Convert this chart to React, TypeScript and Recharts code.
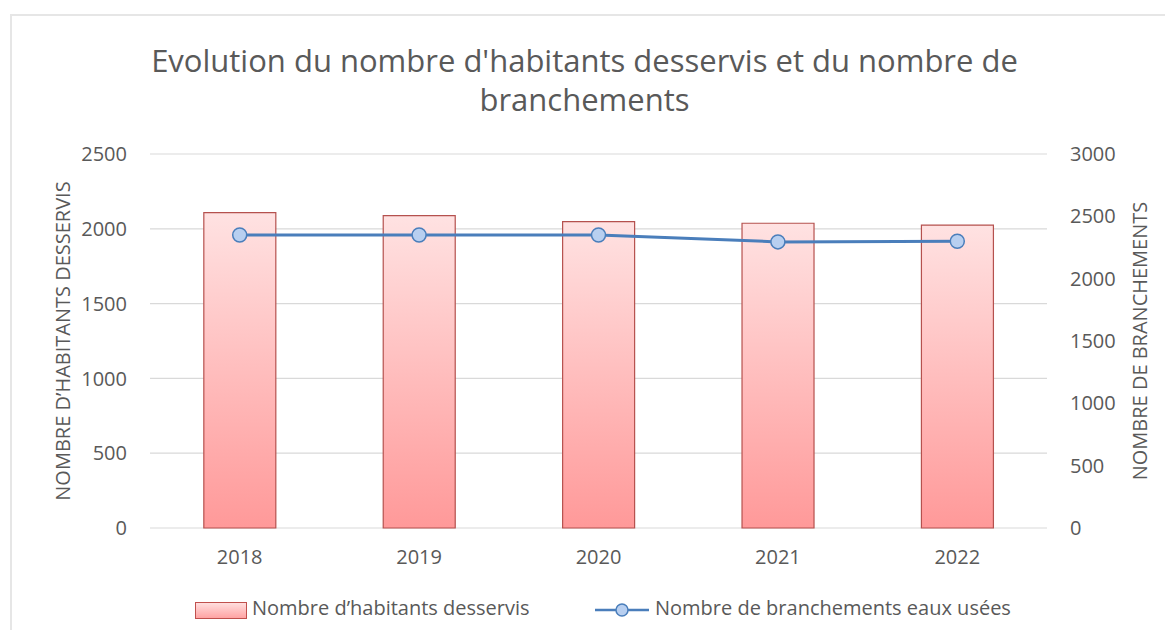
import { ComposedChart, Bar, Line, XAxis, YAxis, CartesianGrid, Legend } from 'recharts'

const YEARS = ['2018', '2019', '2020', '2021', '2022']
const HABITANTS = [2108, 2088, 2048, 2037, 2025]
const BRANCHEMENTS = [2350, 2350, 2350, 2295, 2300]
const LEFT_TICKS = [0, 500, 1000, 1500, 2000, 2500]
const RIGHT_TICKS = [0, 500, 1000, 1500, 2000, 2500, 3000]

const BAR_NAME = 'Nombre d\u2019habitants desservis'
const LINE_NAME = 'Nombre de branchements eaux usées'

const FONT = '"Open Sans", sans-serif'
const GREY = '#595959'
const LINE_BLUE = '#4a7ebb'

function AxisTitle({ viewBox, value, side }: any) {
  const cx = side === 'left' ? viewBox.x + 50 : viewBox.x + 92
  const cy = viewBox.y + viewBox.height / 2
  return (
    <text
      x={cx}
      y={cy}
      transform={`rotate(-90, ${cx}, ${cy})`}
      textAnchor="middle"
      dominantBaseline="central"
      fill={GREY}
      fontSize={20}
      fontFamily={FONT}
    >
      {value}
    </text>
  )
}

function ChartLegend() {
  return (
    <div style={{ position: 'relative', height: 42, fontFamily: FONT, fontSize: 20, color: GREY }}>
      <div
        style={{
          position: 'absolute',
          left: 183,
          top: 14,
          width: 50,
          height: 15,
          border: '1px solid #c0504d',
          background: 'linear-gradient(#ffdede, #ffa3a3)',
        }}
      />
      <span style={{ position: 'absolute', left: 240, top: 6, whiteSpace: 'nowrap' }}>{BAR_NAME}</span>
      <svg style={{ position: 'absolute', left: 583, top: 12 }} width={54} height={20}>
        <line x1={0} y1={10} x2={54} y2={10} stroke={LINE_BLUE} strokeWidth={2.5} />
        <circle cx={27} cy={10} r={6} fill="#b8cff0" stroke={LINE_BLUE} strokeWidth={1.5} />
      </svg>
      <span style={{ position: 'absolute', left: 643, top: 6, whiteSpace: 'nowrap' }}>{LINE_NAME}</span>
    </div>
  )
}

export default function App() {
  const data = YEARS.map((year, i) => ({
    year,
    habitants: HABITANTS[i],
    branchements: BRANCHEMENTS[i],
  }))

  return (
    <div style={{ position: 'relative', width: 1157, height: 622, overflow: 'hidden', background: '#fff' }}>
      <div
        style={{
          position: 'absolute',
          left: 2,
          top: 6,
          width: 1200,
          height: 700,
          borderLeft: '2px solid #e6e6e6',
          borderTop: '2px solid #e6e6e6',
        }}
      />
      <div
        style={{
          position: 'absolute',
          left: 0,
          top: 33,
          width: 1153,
          textAlign: 'center',
          fontFamily: FONT,
          fontSize: 31,
          lineHeight: '39px',
          color: GREY,
        }}
      >
        Evolution du nombre d'habitants desservis et du nombre de
        <br />
        branchements
      </div>
      <div style={{ position: 'absolute', left: 4, top: 8 }}>
        <ComposedChart
          width={1153}
          height={614}
          data={data}
          margin={{ top: 138, right: 0, bottom: 0, left: 0 }}
          barCategoryGap="30%"
        >
          <defs>
            <linearGradient id="barFill" x1="0" y1="0" x2="0" y2="1">
              <stop offset="0%" stopColor="#ffe2e2" />
              <stop offset="100%" stopColor="#ff9999" />
            </linearGradient>
          </defs>
          <CartesianGrid vertical={false} stroke="#d9d9d9" strokeWidth={1.2} yAxisId="left" />
          <XAxis
            dataKey="year"
            axisLine={false}
            tickLine={false}
            tickSize={0}
            tickMargin={22}
            height={60}
            tick={{ fill: GREY, fontSize: 20, fontFamily: FONT }}
          />
          <YAxis
            yAxisId="left"
            domain={[0, 2500]}
            ticks={LEFT_TICKS}
            width={138}
            axisLine={false}
            tickLine={false}
            tickSize={0}
            tickMargin={23}
            tick={{ fill: GREY, fontSize: 20, fontFamily: FONT }}
            label={<AxisTitle value="NOMBRE D’HABITANTS DESSERVIS" side="left" />}
          />
          <YAxis
            yAxisId="right"
            orientation="right"
            domain={[0, 3000]}
            ticks={RIGHT_TICKS}
            width={118}
            axisLine={false}
            tickLine={false}
            tickSize={0}
            tickMargin={23}
            tick={{ fill: GREY, fontSize: 20, fontFamily: FONT }}
            label={<AxisTitle value="NOMBRE DE BRANCHEMENTS" side="right" />}
          />
          <Legend verticalAlign="bottom" height={42} content={() => <ChartLegend />} />
          <Bar
            yAxisId="left"
            dataKey="habitants"
            name={BAR_NAME}
            fill="url(#barFill)"
            stroke="#b5514e"
            strokeWidth={1.2}
            isAnimationActive={false}
          />
          <Line
            yAxisId="right"
            dataKey="branchements"
            name={LINE_NAME}
            stroke={LINE_BLUE}
            strokeWidth={3}
            dot={{ r: 7, fill: '#b8cff0', stroke: LINE_BLUE, strokeWidth: 1.5 }}
            isAnimationActive={false}
          />
        </ComposedChart>
      </div>
    </div>
  )
}
